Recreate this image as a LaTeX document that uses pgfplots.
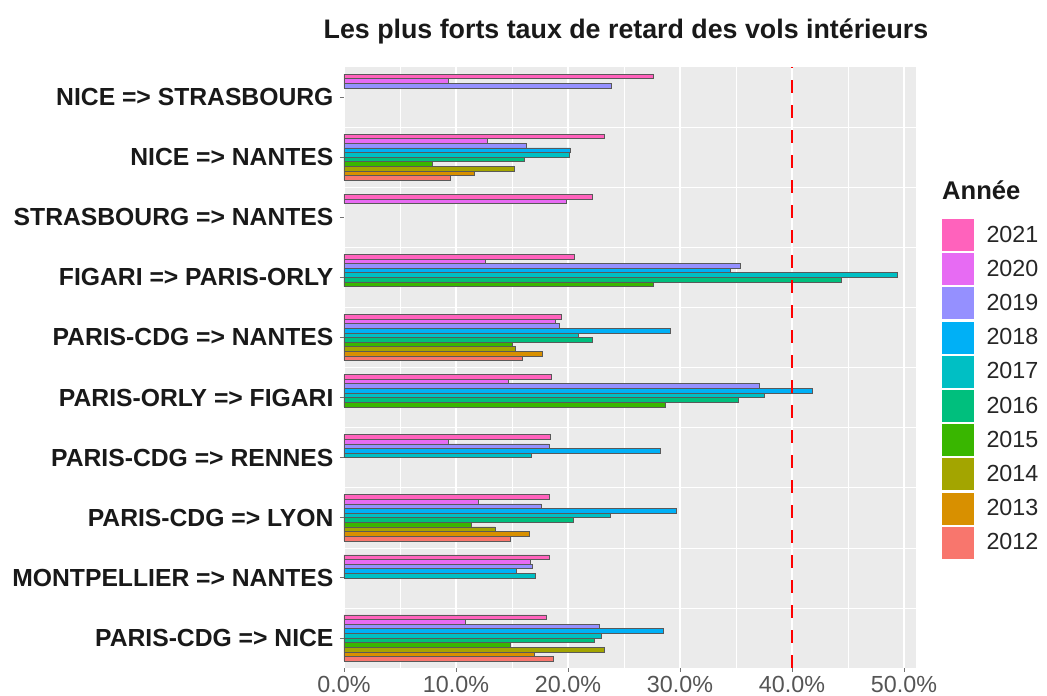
\documentclass[border=0pt]{standalone}
\usepackage{fontspec}
\setmainfont{Liberation Sans}
\usepackage{pgfplots}
\usepackage{pgfplotstable}
\pgfplotsset{compat=1.18}

\definecolor{c2012}{HTML}{F8766D}
\definecolor{c2013}{HTML}{D89000}
\definecolor{c2014}{HTML}{A3A500}
\definecolor{c2015}{HTML}{39B600}
\definecolor{c2016}{HTML}{00BF7D}
\definecolor{c2017}{HTML}{00BFC4}
\definecolor{c2018}{HTML}{00B0F6}
\definecolor{c2019}{HTML}{9590FF}
\definecolor{c2020}{HTML}{E76BF3}
\definecolor{c2021}{HTML}{FF62BC}
\definecolor{panelgrey}{HTML}{EBEBEB}
\definecolor{ticktext}{HTML}{555555}

\pgfplotstableread{
pos v2021 v2020 v2019 v2018 v2017 v2016 v2015 v2014 v2013 v2012
10 27.6 9.3 23.9 nan nan nan nan nan nan nan
9 23.2 12.8 16.3 20.2 20.1 16.1 7.9 15.2 11.6 9.5
8 22.2 19.8 nan nan nan nan nan nan nan nan
7 20.6 12.6 35.4 34.5 49.4 44.4 27.6 nan nan nan
6 19.4 18.9 19.2 29.1 20.9 22.2 15.0 15.3 17.7 15.9
5 18.5 14.7 37.1 41.8 37.5 35.2 28.7 nan nan nan
4 18.4 9.3 18.3 28.2 16.7 nan nan nan nan nan
3 18.3 12.0 17.6 29.7 23.8 20.5 11.4 13.5 16.5 14.8
2 18.3 16.6 16.8 15.4 17.1 nan nan nan nan nan
1 18.1 10.8 22.8 28.5 23.0 22.3 14.8 23.2 17.0 18.7
}\data

\pgfplotsset{
  yb/.style n args={2}{xbar, bar width=0.0766, bar shift=#2, fill=#1,
    draw=black!65, line width=0.5pt,
    legend image code/.code={\fill[#1] (0pt,-15.5pt) rectangle (31pt,15.5pt); \path (44pt,0pt);}},
}

\begin{document}
\begin{tikzpicture}
\useasboundingbox (-344pt,-28pt) rectangle (703pt,668pt);
\begin{axis}[
  at={(0pt,0pt)}, anchor=south west,
  scale only axis, width=572pt, height=601pt,
  xmin=0, xmax=51.07, ymin=0.5, ymax=10.5,
  axis background/.style={fill=panelgrey},
  axis line style={draw=none},
  xtick={0,10,...,50}, minor xtick={5,15,...,45},
  ytick={1,...,10}, minor ytick={1.5,2.5,...,9.5},
  xmajorgrids, xminorgrids, yminorgrids,
  major grid style={white, line width=1.1pt},
  minor grid style={white, line width=0.55pt},
  tick align=outside, major tick length=4pt, minor tick length=0pt,
  tick style={color=black!55, line width=0.8pt},
  xtick pos=bottom, ytick pos=left,
  xticklabel={\pgfmathprintnumber[fixed, fixed zerofill, precision=1, assume math mode=true]{\tick}\%},
  xticklabel style={font=\fontsize{23.3}{26}\selectfont, text=ticktext, yshift=-1pt},
  yticklabels={PARIS-CDG => NICE, MONTPELLIER => NANTES, PARIS-CDG => LYON, PARIS-CDG => RENNES, PARIS-ORLY => FIGARI, PARIS-CDG => NANTES, FIGARI => PARIS-ORLY, STRASBOURG => NANTES, NICE => NANTES, NICE => STRASBOURG},
  yticklabel style={font=\bfseries\fontsize{24.7}{28}\selectfont, text=black!90, xshift=-3pt},
  legend style={at={(1.0455,0.747)}, anchor=north west, draw=none, fill=none,
    inner sep=0pt, outer sep=0pt, row sep=2.7pt,
    font=\fontsize{23.3}{26}\selectfont, text=black!85,
    nodes={inner sep=0pt}},
  legend cell align=left,
]
\addplot[yb={c2021}{0.3447}] table[x=v2021, y=pos]{\data};
\addlegendentry{2021}
\addplot[yb={c2020}{0.2681}] table[x=v2020, y=pos]{\data};
\addlegendentry{2020}
\addplot[yb={c2019}{0.1915}] table[x=v2019, y=pos]{\data};
\addlegendentry{2019}
\addplot[yb={c2018}{0.1149}] table[x=v2018, y=pos]{\data};
\addlegendentry{2018}
\addplot[yb={c2017}{0.0383}] table[x=v2017, y=pos]{\data};
\addlegendentry{2017}
\addplot[yb={c2016}{-0.0383}] table[x=v2016, y=pos]{\data};
\addlegendentry{2016}
\addplot[yb={c2015}{-0.1149}] table[x=v2015, y=pos]{\data};
\addlegendentry{2015}
\addplot[yb={c2014}{-0.1915}] table[x=v2014, y=pos]{\data};
\addlegendentry{2014}
\addplot[yb={c2013}{-0.2681}] table[x=v2013, y=pos]{\data};
\addlegendentry{2013}
\addplot[yb={c2012}{-0.3447}] table[x=v2012, y=pos]{\data};
\addlegendentry{2012}
\addplot[sharp plot, no marks, red, line width=2.6pt, dash pattern=on 12.5pt off 12.5pt, forget plot] coordinates {(40,0.5) (40,10.5)};
\end{axis}
\node[font=\bfseries\fontsize{26.8}{30}\selectfont, text=black!90] at (282pt,637pt) {Les plus forts taux de retard des vols intérieurs};
\node[anchor=west, font=\bfseries\fontsize{25.6}{30}\selectfont, text=black!90, inner sep=0pt] at (598pt,478pt) {Année};
\end{tikzpicture}
\end{document}
